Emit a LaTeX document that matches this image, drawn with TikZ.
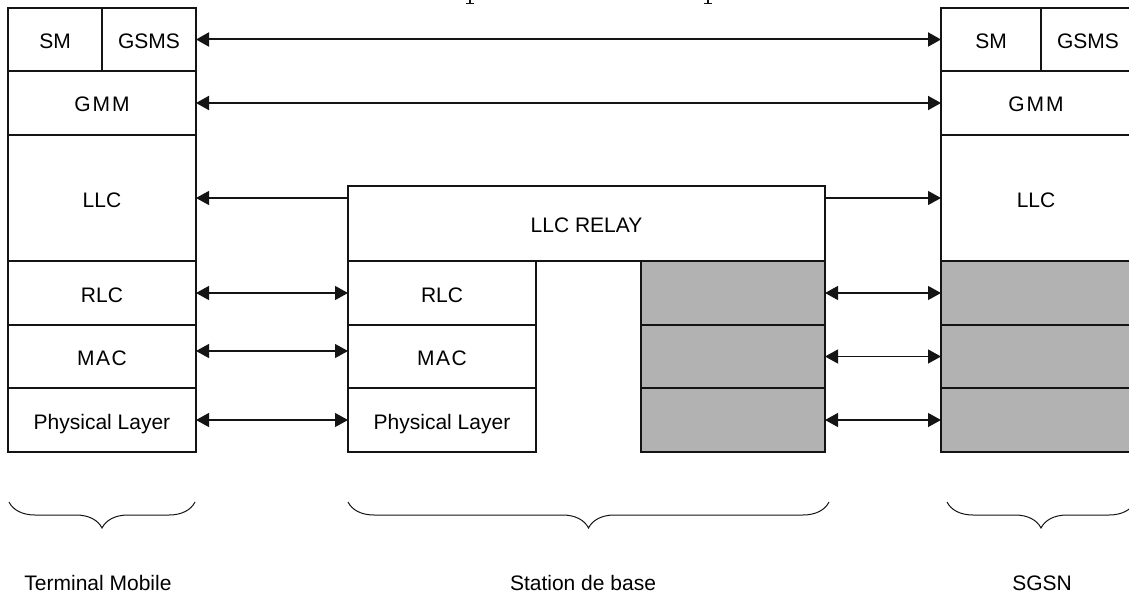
\documentclass[tikz,border=0pt]{standalone}
\usepackage{fontspec}
\setmainfont{Liberation Sans}
\usetikzlibrary{arrows.meta,decorations.pathreplacing}
\definecolor{ink}{RGB}{20,20,20}
\definecolor{layergray}{RGB}{178,178,178}
\tikzset{
  layer/.style={draw=ink, line width=1.2pt, inner sep=0pt, outer sep=0pt,
    font=\fontsize{21}{24}\selectfont, text height=18pt, text depth=0pt},
  shaded/.style={layer, fill=layergray},
  caption/.style={inner sep=0pt, font=\fontsize{21}{24}\selectfont,
    text height=15pt, text depth=0pt},
  link/.style={draw=ink, line width=1.2pt,
    {Triangle[length=13pt,width=14pt]}-{Triangle[length=13pt,width=14pt]}},
  peerlink/.style={link, line width=2pt},
  relaylink/.style={draw=ink, line width=1.2pt, -{Triangle[length=13pt,width=14pt]}},
  groupbrace/.style={draw=ink, line width=1pt, decorate,
    decoration={brace, mirror, amplitude=26pt}},
}
\begin{document}
\begin{tikzpicture}[x=1pt, y=-1pt]
  \useasboundingbox (0,0) rectangle (1129,599);
  \clip (0,0) rectangle (1129,599);

  % descenders of the clipped caption line above
  \draw[ink, line width=1.2pt] (470,0) -- (470,3.5) (466,3.5) -- (474,3.5);
  \draw[ink, line width=1.2pt] (708,0) -- (708,3.5) (704,3.5) -- (712,3.5);

  % Terminal Mobile stack
  \node[layer, minimum width=94pt,  minimum height=63pt]  (tmSM)   at (55,39.5)  {SM};
  \node[layer, minimum width=94pt,  minimum height=63pt]  (tmGSMS) at (149,39.5) {GSMS};
  \node[layer, minimum width=188pt, minimum height=64pt]  (tmGMM)  at (102,103)  {G\kern2pt M\kern2pt M};
  \node[layer, minimum width=188pt, minimum height=126pt] (tmLLC)  at (102,198)  {LLC};
  \node[layer, minimum width=188pt, minimum height=64pt]  (tmRLC)  at (102,293)  {RLC};
  \node[layer, minimum width=188pt, minimum height=63pt]  (tmMAC)  at (102,356.5){M\kern1.5pt A\kern1.5pt C};
  \node[layer, minimum width=188pt, minimum height=64pt]  (tmPHY)  at (102,420)  {Physical Layer};

  % Station de base stack
  \node[layer, minimum width=477pt, minimum height=75pt]  (bsRelay) at (586.5,223.5) {LLC RELAY};
  \node[layer, minimum width=188pt, minimum height=64pt]  (bsRLC)  at (442,293)  {RLC};
  \node[layer, minimum width=188pt, minimum height=63pt]  (bsMAC)  at (442,356.5){M\kern1.5pt A\kern1.5pt C};
  \node[layer, minimum width=188pt, minimum height=64pt]  (bsPHY)  at (442,420)  {Physical Layer};
  \node[shaded, minimum width=184pt, minimum height=64pt] (bsG1)   at (733,293)  {};
  \node[shaded, minimum width=184pt, minimum height=63pt] (bsG2)   at (733,356.5){};
  \node[shaded, minimum width=184pt, minimum height=64pt] (bsG3)   at (733,420)  {};

  % SGSN stack (its right edge runs off the page)
  \node[layer, minimum width=100pt, minimum height=63pt]  (sgSM)   at (991,39.5)  {SM};
  \node[layer, minimum width=94pt,  minimum height=63pt]  (sgGSMS) at (1088,39.5) {GSMS};
  \node[layer, minimum width=190pt, minimum height=64pt]  (sgGMM)  at (1036,103)  {G\kern2pt M\kern2pt M};
  \node[layer, minimum width=190pt, minimum height=126pt] (sgLLC)  at (1036,198)  {LLC};
  \node[shaded, minimum width=190pt, minimum height=64pt] (sgG1)   at (1036,293)  {};
  \node[shaded, minimum width=190pt, minimum height=63pt] (sgG2)   at (1036,356.5){};
  \node[shaded, minimum width=190pt, minimum height=64pt] (sgG3)   at (1036,420)  {};

  % peer-to-peer links
  \draw[peerlink] (tmGSMS.east) -- (sgSM.west);
  \draw[peerlink] (tmGMM.east) -- (sgGMM.west);
  \draw[relaylink] (tmLLC.east -| bsRelay.west) -- (tmLLC.east);
  \draw[relaylink] (sgLLC.west -| bsRelay.east) -- (sgLLC.west);
  \draw[link] (tmRLC.east) -- (bsRLC.west);
  \draw[link] ([yshift=5.5pt]tmMAC.east) -- ([yshift=5.5pt]bsMAC.west);
  \draw[link] (tmPHY.east) -- (bsPHY.west);
  \draw[link] (bsG1.east) -- (sgG1.west);
  \draw[link] (bsG2.east) -- (sgG2.west);
  \draw[link] (bsG3.east) -- (sgG3.west);

  % group braces and captions
  \coordinate (brTMa) at (9,502);   \coordinate (brTMb) at (195,502);
  \coordinate (brBSa) at (348,502); \coordinate (brBSb) at (829,502);
  \coordinate (brSGa) at (947,502); \coordinate (brSGb) at (1135,502);
  \draw[groupbrace] (brTMa) -- (brTMb);
  \draw[groupbrace] (brBSa) -- (brBSb);
  \draw[groupbrace] (brSGa) -- (brSGb);

  \node[caption] (lblTM) at (98,583)   {Terminal Mobile};
  \node[caption] (lblBS) at (583,583)  {Station de base};
  \node[caption] (lblSG) at (1042,583) {SGSN};
\end{tikzpicture}
\end{document}
